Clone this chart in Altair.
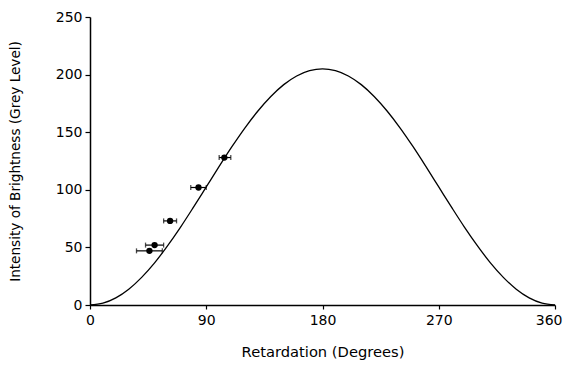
import altair as alt
import pandas as pd

# Theoretical curve
curve_x = [0, 10, 20, 30, 40, 50, 60, 70, 80, 90, 100, 110, 120, 130, 140, 150, 160, 170, 180,
           190, 200, 210, 220, 230, 240, 250, 260, 270, 280, 290, 300, 310, 320, 330, 340, 350, 360]
curve_y = [0, 1.6, 6.2, 13.7, 24.0, 36.6, 51.3, 67.4, 84.7, 102.5, 120.3, 137.6, 153.8, 168.4, 181.0, 191.3, 198.8, 203.4, 205,
           203.4, 198.8, 191.3, 181.0, 168.4, 153.8, 137.6, 120.3, 102.5, 84.7, 67.4, 51.3, 36.6, 24.0, 13.7, 6.2, 1.6, 0]

# Measured points with horizontal error bars
pt_x = [46, 50, 62, 84, 104]
pt_y = [47, 52, 73, 102, 128]
pt_lo = [36, 43, 57, 78, 100]
pt_hi = [56, 57, 67, 90, 109]

curve = pd.DataFrame({"x": curve_x, "y": curve_y})
pts = pd.DataFrame({"x": pt_x, "y": pt_y, "lo": pt_lo, "hi": pt_hi})

FONT = "DejaVu Sans"

xscale = alt.Scale(domain=[0, 360], nice=False, zero=False)
yscale = alt.Scale(domain=[0, 250], nice=False)

xaxis = alt.Axis(
    values=[0, 90, 180, 270, 360], title="Retardation (Degrees)", grid=False,
    tickSize=4, labelPadding=4, titlePadding=17, labelFlush=False, titleFontSize=14.7,
    labelAlign={"condition": {"test": "datum.value == 360", "value": "right"}, "value": "center"},
    labelOffset={"condition": {"test": "datum.value == 360", "value": 7}, "value": 0},
)
yaxis = alt.Axis(values=[0, 50, 100, 150, 200, 250], title="Intensity of Brightness (Grey Level)", grid=False,
                 tickSize=5, labelPadding=3, titlePadding=33, labelFlush=False, titleFontSize=13.6)

line = alt.Chart(curve).mark_line(color="black", strokeWidth=1.3, interpolate="monotone").encode(
    x=alt.X("x:Q", scale=xscale, axis=xaxis),
    y=alt.Y("y:Q", scale=yscale, axis=yaxis),
)

bars = alt.Chart(pts).mark_rule(color="black", strokeWidth=1.2).encode(
    x=alt.X("lo:Q", scale=xscale), x2="hi:Q", y=alt.Y("y:Q", scale=yscale)
)
cap_lo = alt.Chart(pts).mark_tick(color="black", orient="vertical", size=5, thickness=1.3).encode(
    x=alt.X("lo:Q", scale=xscale), y=alt.Y("y:Q", scale=yscale)
)
cap_hi = alt.Chart(pts).mark_tick(color="black", orient="vertical", size=5, thickness=1.3).encode(
    x=alt.X("hi:Q", scale=xscale), y=alt.Y("y:Q", scale=yscale)
)
dots = alt.Chart(pts).mark_circle(color="black", opacity=1, size=40).encode(
    x=alt.X("x:Q", scale=xscale), y=alt.Y("y:Q", scale=yscale)
)

chart = alt.layer(line, bars, cap_lo, cap_hi, dots).properties(
    width=465, height=288,
    autosize=alt.AutoSizeParams(type="none"),
    padding={"left": 82, "top": 9, "right": 8, "bottom": 55},
    background="white",
).configure_view(stroke=None).configure_axis(
    domainColor="black", domainWidth=1.5, tickColor="black", tickWidth=1.2,
    labelFont=FONT, titleFont=FONT, labelFontSize=14, titleFontSize=14,
    labelColor="black", titleColor="black", titleFontWeight="normal",
)

chart.save("out.html", embed_options={"renderer": "svg", "actions": False})
